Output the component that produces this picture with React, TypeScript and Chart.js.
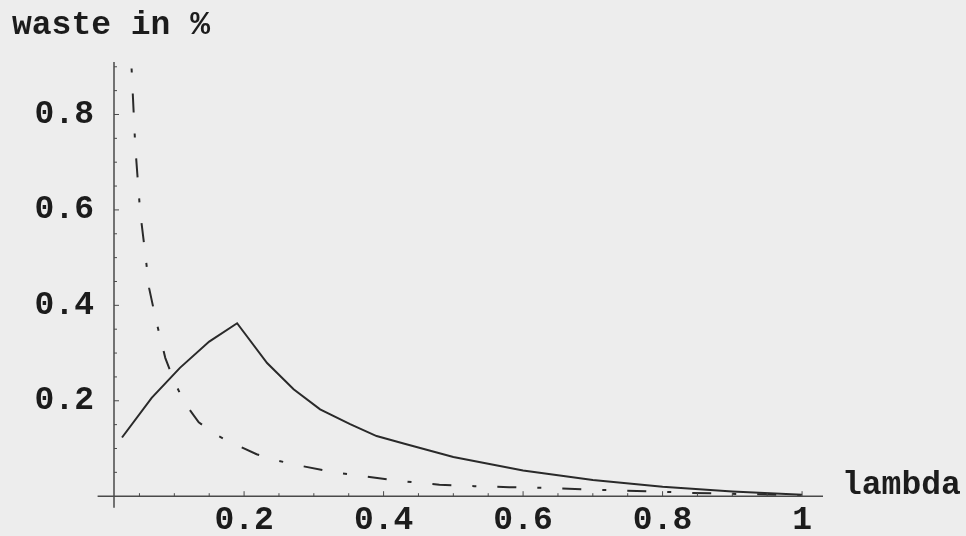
import { useEffect, useRef } from "react";
import { Chart, registerables } from "chart.js";

Chart.register(...registerables);

// solid curve
const solidLambda = [0.025, 0.0675, 0.108, 0.15, 0.19, 0.233, 0.271, 0.309, 0.352, 0.39, 0.43, 0.5, 0.6, 0.7, 0.8, 0.9, 1.0];
const solidWaste = [0.123, 0.206, 0.269, 0.324, 0.3625, 0.279, 0.224, 0.182, 0.151, 0.126, 0.11, 0.082, 0.054, 0.034, 0.02, 0.01, 0.003];

// dash-dot curve
const dashLambda = [0.036, 0.044, 0.051, 0.058, 0.064, 0.074, 0.087, 0.1, 0.115, 0.135, 0.158, 0.182, 0.218, 0.25, 0.28, 0.33, 0.38, 0.43, 0.48, 0.53, 0.58, 0.64, 0.69, 0.74, 0.79, 0.84, 0.9, 1.0];
const dashWaste = [0.98, 0.733, 0.596, 0.512, 0.435, 0.367, 0.29, 0.24, 0.195, 0.155, 0.13, 0.112, 0.088, 0.074, 0.064, 0.05, 0.04, 0.031, 0.024, 0.021, 0.019, 0.017, 0.014, 0.012, 0.01, 0.007, 0.005, 0.002];

const xTickValues = [0.2, 0.4, 0.6, 0.8, 1.0];
const xTickLabels = ["0.2", "0.4", "0.6", "0.8", "1"];
const yTickValues = [0.2, 0.4, 0.6, 0.8];
const yTickLabels = ["0.2", "0.4", "0.6", "0.8"];
const xMinorTicks = [0.05, 0.1, 0.15, 0.25, 0.3, 0.35, 0.45, 0.5, 0.55, 0.65, 0.7, 0.75, 0.85, 0.9, 0.95];
const yMinorTicks = [0.05, 0.1, 0.15, 0.25, 0.3, 0.35, 0.45, 0.5, 0.55, 0.65, 0.7, 0.75, 0.85, 0.9];

const yAxisTitle = "waste in %";
const xAxisTitle = "lambda";

const X_MIN = 0.0135;
const X_MAX = 1.03;
const Y_MIN = 0;
const Y_MAX = 0.91;
const X_AXIS_LEFT = -0.01;
const Y_AXIS_BOTTOM = -0.024;

const FONT = "'Liberation Mono', 'Courier New', monospace";
const TEXT = "#1c1c1c";
const AXIS = "#4a4a4a";
const LINE = "#2a2a2a";

const mathematicaAxes = {
  id: "mathematicaAxes",
  beforeDraw(chart: any) {
    const { ctx } = chart;
    ctx.save();
    ctx.fillStyle = "#ededed";
    ctx.fillRect(0, 0, chart.width, chart.height);
    ctx.restore();
  },
  afterDraw(chart: any) {
    const { ctx } = chart;
    const xs = chart.scales.x;
    const ys = chart.scales.y;
    const x0 = xs.getPixelForValue(X_MIN);
    const y0 = ys.getPixelForValue(0);
    ctx.save();
    ctx.strokeStyle = AXIS;
    ctx.lineWidth = 1.5;
    ctx.beginPath();
    ctx.moveTo(xs.getPixelForValue(X_AXIS_LEFT), y0);
    ctx.lineTo(xs.getPixelForValue(X_MAX), y0);
    ctx.moveTo(x0, ys.getPixelForValue(Y_MAX));
    ctx.lineTo(x0, ys.getPixelForValue(Y_AXIS_BOTTOM));
    ctx.stroke();
    ctx.lineWidth = 1;
    ctx.beginPath();
    xTickValues.forEach((v) => {
      const p = xs.getPixelForValue(v);
      ctx.moveTo(p, y0);
      ctx.lineTo(p, y0 - 5);
    });
    xMinorTicks.forEach((v) => {
      const p = xs.getPixelForValue(v);
      ctx.moveTo(p, y0);
      ctx.lineTo(p, y0 - 3);
    });
    yTickValues.forEach((v) => {
      const p = ys.getPixelForValue(v);
      ctx.moveTo(x0, p);
      ctx.lineTo(x0 + 5, p);
    });
    yMinorTicks.forEach((v) => {
      const p = ys.getPixelForValue(v);
      ctx.moveTo(x0, p);
      ctx.lineTo(x0 + 3, p);
    });
    ctx.stroke();
    ctx.fillStyle = TEXT;
    ctx.font = `bold 33px ${FONT}`;
    ctx.textAlign = "left";
    ctx.textBaseline = "alphabetic";
    ctx.fillText(yAxisTitle, 12, 34);
    ctx.fillText(xAxisTitle, 842, 494);
    ctx.restore();
  },
};

function labelFor(values: number[], labels: string[], v: number) {
  const i = values.findIndex((t) => Math.abs(t - v) < 1e-6);
  return i >= 0 ? labels[i] : "";
}

export default function App() {
  const ref = useRef<HTMLCanvasElement | null>(null);
  useEffect(() => {
    if (!ref.current) return;
    const chart = new Chart(ref.current, {
      type: "line",
      data: {
        datasets: [
          {
            data: solidLambda.map((x, i) => ({ x, y: solidWaste[i] })),
            borderColor: LINE,
            borderWidth: 2,
            pointRadius: 0,
            tension: 0,
            fill: false,
          },
          {
            data: dashLambda.map((x, i) => ({ x, y: dashWaste[i] })),
            borderColor: LINE,
            borderWidth: 2,
            borderDash: [19, 21, 4, 21],
            pointRadius: 0,
            tension: 0,
            fill: false,
          },
        ],
      },
      options: {
        animation: false,
        responsive: false,
        devicePixelRatio: 1,
        layout: { padding: { left: 34, right: 143, top: 62, bottom: 0 } },
        plugins: { legend: { display: false }, tooltip: { enabled: false } },
        scales: {
          x: {
            type: "linear",
            position: "bottom",
            min: X_MIN,
            max: X_MAX,
            border: { display: false },
            grid: { display: false, drawTicks: false },
            afterBuildTicks: (s: any) => {
              s.ticks = xTickValues.map((value) => ({ value }));
            },
            afterFit: (s: any) => {
              s.height = 37;
            },
            ticks: {
              autoSkip: false,
              maxRotation: 0,
              padding: 5,
              color: TEXT,
              font: { family: FONT, size: 33, weight: "bold" },
              callback: (v: any) => labelFor(xTickValues, xTickLabels, Number(v)),
            },
          },
          y: {
            type: "linear",
            position: "left",
            min: Y_MIN,
            max: Y_MAX,
            border: { display: false },
            grid: { display: false, drawTicks: false },
            afterBuildTicks: (s: any) => {
              s.ticks = yTickValues.map((value) => ({ value }));
            },
            afterFit: (s: any) => {
              s.width = 80;
            },
            ticks: {
              autoSkip: false,
              padding: 20,
              color: TEXT,
              font: { family: FONT, size: 33, weight: "bold" },
              callback: (v: any) => labelFor(yTickValues, yTickLabels, Number(v)),
            },
          },
        },
      },
      plugins: [mathematicaAxes],
    });
    return () => chart.destroy();
  }, []);
  return (
    <div style={{ position: "absolute", left: 0, top: 0, width: 966, height: 536 }}>
      <canvas ref={ref} width={966} height={536} style={{ display: "block", width: 966, height: 536 }} />
    </div>
  );
}
